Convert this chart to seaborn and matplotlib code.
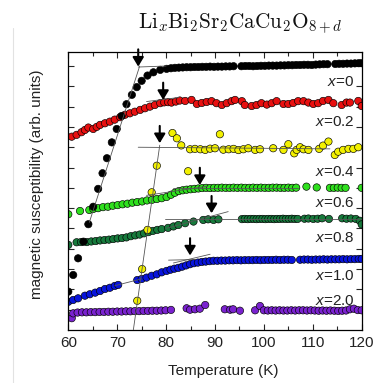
import matplotlib
matplotlib.use('Agg')
import matplotlib.pyplot as plt
import pandas as pd
import seaborn as sns
from matplotlib.lines import Line2D

# ---------------- data (temperature in K, susceptibility in arb. units, offset curves) -------------
T_x0 = [60.0, 61.0, 62.0, 63.1, 64.1, 65.1, 66.1, 67.0, 67.9, 68.9,
        69.9, 70.9, 71.9, 73.0, 74.0, 75.0, 76.2, 77.4, 78.8, 80.1,
        81.0, 81.8, 82.6, 83.4, 84.2, 85.0, 85.8, 86.6, 87.4, 88.2,
        89.0, 89.8, 90.6, 91.4, 92.2, 93.0, 93.8,
        95.4, 96.2, 97.0, 97.8, 98.6, 99.4, 100.2, 101.0, 101.8, 102.6,
        103.4, 104.2, 105.0, 105.8, 106.6, 107.4, 108.2, 109.0, 109.8, 110.6,
        111.4, 112.2, 113.0,
        114.6, 115.4, 116.2, 117.0, 117.8, 118.6, 119.4, 120.0]
chi_x0 = [1.89, 2.71, 3.53, 4.35, 5.21, 6.07, 6.95, 7.72, 8.46, 9.24,
          9.90, 10.54, 11.12, 11.58, 11.96, 12.27, 12.53, 12.69, 12.81, 12.86,
          12.89, 12.91, 12.92, 12.93, 12.94, 12.94, 12.95, 12.95, 12.96, 12.96,
          12.97, 12.96, 12.97, 12.97, 12.98, 12.98, 12.99,
          12.99, 13.00, 13.00, 12.99, 13.00, 13.01, 13.01, 13.02, 13.02, 13.02,
          13.03, 13.03, 13.04, 13.04, 13.05, 13.05, 13.06, 13.06, 13.05, 13.07,
          13.08, 13.09, 13.09,
          13.10, 13.11, 13.11, 13.12, 13.12, 13.13, 13.14, 13.14]

T_x02 = [60.7, 61.7, 62.7, 63.4, 64.1, 65.1, 65.8, 66.5, 67.5, 68.5,
         69.5, 70.6, 71.6, 72.6, 73.6, 74.7, 75.7, 76.7, 77.7, 78.8,
         79.6, 80.4, 81.1, 82.0, 82.8, 83.9, 85.2, 86.3, 87.3, 88.3,
         89.3, 90.3, 91.4, 92.4, 93.4, 94.1, 95.5, 96.1, 97.5, 98.5,
         99.5, 100.6, 101.6, 102.6, 104.0, 105.0, 106.0, 107.0, 108.1, 109.1,
         110.1, 111.1, 112.1, 113.2, 114.2, 115.9, 116.9, 117.6, 119.3, 120.0]
chi_x02 = [9.52, 9.61, 9.74, 9.85, 9.97, 9.90, 10.00, 10.10, 10.18, 10.26,
           10.36, 10.48, 10.60, 10.67, 10.75, 10.84, 10.92, 11.00, 11.08, 11.17,
           11.21, 11.22, 11.20, 11.25, 11.30, 11.28, 11.33, 11.13, 11.18, 11.23,
           11.27, 11.17, 11.08, 11.17, 11.27, 11.33, 11.27, 11.08, 11.03, 11.08,
           11.17, 11.10, 11.17, 11.27, 11.13, 11.13, 11.18, 11.27, 11.27, 11.20,
           11.13, 11.17, 11.28, 11.33, 11.17, 11.08, 11.20, 11.20, 11.28, 11.03]

T_x04 = [74.1, 75.1, 76.2, 77.05, 78.1, 81.3, 82.2, 83.1, 84.5, 84.9,
         85.9, 87.0, 88.0, 89.0, 90.0, 91.0, 91.7, 92.8, 93.8, 94.8,
         95.8, 96.8, 98.2, 99.2, 101.9, 104.0, 105.0, 106.2, 106.7, 107.4,
         108.1, 109.1, 111.3, 112.1, 113.2, 114.5, 115.2, 116.2, 117.3, 118.3,
         119.3]
chi_x04 = [1.44, 3.00, 4.93, 6.78, 8.09, 9.70, 9.44, 9.09, 7.82, 8.90,
           8.92, 8.90, 8.87, 8.93, 8.95, 9.64, 8.88, 8.90, 8.92, 8.86,
           8.90, 8.95, 8.87, 8.90, 8.95, 8.87, 9.15, 8.70, 8.87, 9.00,
           8.90, 8.87, 8.92, 9.08, 9.28, 8.62, 8.78, 8.87, 8.92, 8.92,
           9.00]

T_x06 = [60.0, 62.4, 64.3, 65.1, 66.1, 67.1, 68.1, 69.1, 70.1, 71.1,
         72.1, 73.1, 74.1, 75.1, 76.1, 77.1, 78.1, 79.1, 80.1, 81.0,
         81.8, 82.6, 83.4, 84.2, 85.0, 85.8, 86.6, 87.4, 88.2, 89.0,
         89.8, 90.6, 91.4, 92.2, 93.0, 93.8, 94.6, 95.4, 96.2, 97.0,
         97.8, 98.6, 99.4, 100.2, 101.0, 101.8, 102.6, 103.4, 104.2, 105.0,
         105.8, 106.6, 108.7, 110.8, 113.5, 114.3, 115.1, 115.9, 116.7, 120.0]
chi_x06 = [5.70, 5.86, 5.91, 5.96, 6.00, 6.05, 6.07, 6.12, 6.15, 6.19,
           6.22, 6.27, 6.30, 6.33, 6.38, 6.41, 6.45, 6.49, 6.55, 6.66,
           6.76, 6.84, 6.88, 6.91, 6.93, 6.95, 6.97, 6.99, 7.00, 6.99,
           7.00, 7.00, 7.01, 7.00, 7.00, 7.01, 7.00, 7.01, 7.00, 7.00,
           7.01, 7.00, 7.01, 7.00, 7.00, 7.01, 7.01, 7.00, 7.00, 7.01,
           7.00, 7.01, 7.06, 7.02, 7.00, 7.00, 7.01, 7.00, 7.00, 7.00]

T_x08 = [60.0, 61.7, 62.6, 63.8, 64.7, 65.6, 66.5, 67.4, 68.3, 69.2,
         70.1, 71.0, 71.9, 72.8, 73.7, 74.6, 75.5, 76.4, 77.3, 78.2,
         79.1, 80.4, 81.5, 82.5, 83.9, 85.6, 87.6, 88.6, 89.7, 90.7,
         95.5, 96.1, 96.7, 97.3, 97.9, 98.5, 99.1, 99.7, 100.3, 100.9,
         101.5, 102.1, 102.7, 103.3, 103.9, 104.5, 105.1, 105.7, 106.3, 106.9,
         108.3, 109.1, 110.1, 111.0, 111.9, 113.3, 116.0, 116.9, 117.8, 118.8,
         119.6, 120.0]
chi_x08 = [4.19, 4.32, 4.33, 4.33, 4.36, 4.38, 4.41, 4.43, 4.45, 4.48,
           4.51, 4.53, 4.56, 4.62, 4.66, 4.70, 4.76, 4.82, 4.88, 4.93,
           4.97, 5.03, 5.10, 5.17, 5.26, 5.34, 5.42, 5.45, 5.42, 5.45,
           5.46, 5.47, 5.46, 5.47, 5.47, 5.46, 5.47, 5.47, 5.46, 5.47,
           5.47, 5.46, 5.47, 5.47, 5.48, 5.47, 5.47, 5.48, 5.47, 5.47,
           5.48, 5.49, 5.47, 5.48, 5.50, 5.47, 5.50, 5.48, 5.49, 5.47,
           5.38, 5.20]

T_x10 = [60.0, 61.0, 62.0, 63.4, 64.4, 65.5, 66.5, 67.5, 68.5, 69.5,
         70.2, 74.1, 75.0, 76.0, 77.05, 78.1, 79.1, 80.1, 80.9, 81.7,
         82.5, 83.3, 84.1, 84.9, 85.7, 86.5, 87.3, 88.1, 88.9, 89.7,
         90.5, 91.3, 92.1, 92.9, 93.7, 94.5, 95.3, 96.1, 96.9, 97.7,
         98.5, 99.3, 100.1, 100.9, 101.7, 102.5, 103.3, 104.1, 104.9, 105.7,
         107.4, 108.2, 109.0, 109.8, 110.6, 111.4, 112.2, 113.0, 113.8, 114.6,
         115.4, 116.2, 117.0, 117.8, 118.6, 119.4, 120.0]
chi_x10 = [1.39, 1.48, 1.56, 1.69, 1.76, 1.84, 1.92, 2.02, 2.08, 2.17,
           2.22, 2.46, 2.51, 2.58, 2.67, 2.74, 2.84, 2.91, 2.97, 3.02,
           3.06, 3.12, 3.18, 3.24, 3.29, 3.32, 3.35, 3.37, 3.39, 3.41,
           3.41, 3.42, 3.42, 3.43, 3.43, 3.44, 3.43, 3.44, 3.44, 3.44,
           3.45, 3.44, 3.45, 3.45, 3.45, 3.46, 3.45, 3.46, 3.46, 3.45,
           3.46, 3.47, 3.47, 3.46, 3.47, 3.47, 3.48, 3.47, 3.48, 3.48,
           3.48, 3.49, 3.48, 3.49, 3.49, 3.50, 3.50]

T_x20 = [60.7, 61.0, 61.9, 62.8, 63.7, 64.6, 65.5, 66.4, 67.3, 68.2,
         69.1, 70.0, 70.9, 71.8, 72.7, 73.6, 74.5, 75.4, 76.3, 77.2,
         78.1, 79.0, 79.9, 81.0, 84.2, 84.9, 85.9, 86.9, 88.0, 92.0,
         93.1, 93.7, 95.1, 98.2, 99.2, 100.0, 100.8, 101.6, 102.4, 103.2,
         104.0, 104.8, 105.6, 106.4, 107.2, 108.0, 108.8, 109.6, 110.4, 111.2,
         112.0, 112.8, 113.6, 114.4, 115.2, 116.0, 116.8, 117.6, 118.4, 119.2,
         120.0]
chi_x20 = [0.58, 0.82, 0.86, 0.87, 0.87, 0.88, 0.88, 0.89, 0.89, 0.90,
           0.90, 0.91, 0.91, 0.92, 0.92, 0.93, 0.93, 0.94, 0.94, 0.95,
           0.95, 0.96, 0.97, 0.99, 1.07, 1.00, 1.02, 1.05, 1.23, 1.02,
           1.00, 1.02, 0.95, 0.97, 1.18, 0.97, 0.96, 0.97, 0.96, 0.97,
           0.96, 0.96, 0.97, 0.96, 0.97, 0.97, 0.96, 0.97, 0.96, 0.95,
           0.96, 0.95, 0.96, 0.95, 0.94, 0.95, 0.96, 1.02, 1.05, 0.98,
           0.97]

series_names = ['x=2.0', 'x=1.0', 'x=0.8', 'x=0.6', 'x=0.2', 'x=0.4', 'x=0']
series_T = [T_x20, T_x10, T_x08, T_x06, T_x02, T_x04, T_x0]
series_chi = [chi_x20, chi_x10, chi_x08, chi_x06, chi_x02, chi_x04, chi_x0]
series_colors = ['#7a22cf', '#0814dc', '#177a3c', '#2fe01e', '#e81010', '#f2f000', '#000000']

# curve labels (right aligned) and their heights
label_text = ['$x$=0', '$x$=0.2', '$x$=0.4', '$x$=0.6', '$x$=0.8', '$x$=1.0', '$x$=2.0']
label_chi = [12.23, 10.26, 7.80, 6.24, 4.52, 2.66, 1.43]

# guide (fit) lines: start/end temperature and level
fit_T1 = [64.3, 74.3, 76.0, 74.3, 73.3, 76.0, 81.4, 80.1, 79.8, 69.5, 81.5, 80.5]
fit_T2 = [74.6, 80.0, 82.6, 113.5, 78.7, 88.5, 107.0, 92.7, 120.0, 75.0, 89.0, 86.0]
fit_c1 = [5.30, 12.95, 11.25, 9.00, 0.00, 6.63, 7.00, 5.01, 5.47, 2.18, 3.30, 3.44]
fit_c2 = [13.00, 13.00, 11.45, 8.92, 9.10, 7.08, 7.00, 5.83, 5.47, 2.52, 3.73, 3.47]

# Tc arrows: temperature and level of arrow tip
arrow_T = [74.3, 79.4, 78.7, 86.9, 89.3, 84.9]
arrow_chi = [12.97, 11.33, 9.20, 7.14, 5.75, 3.67]

# ---------------- plotting -------------
sns.set_style('ticks')
plt.rcParams['font.family'] = ['Liberation Sans', 'DejaVu Sans']
plt.rcParams['mathtext.fontset'] = 'custom'
plt.rcParams['mathtext.rm'] = 'Liberation Sans'
plt.rcParams['mathtext.it'] = 'Liberation Sans:italic'

rows = []
for name, Ts, cs in zip(series_names, series_T, series_chi):
    for t, c in zip(Ts, cs):
        rows.append((name, t, c))
df = pd.DataFrame(rows, columns=['series', 'T', 'chi'])
palette = dict(zip(series_names, series_colors))

W, H = 376, 383
fig = plt.figure(figsize=(W / 100, H / 100), dpi=100)
ax = fig.add_axes([68.3 / W, 1 - 330 / H, (361.7 - 68.3) / W, (330 - 52) / H])

sns.scatterplot(data=df, x='T', y='chi', hue='series', palette=palette,
                hue_order=series_names, s=28, edgecolor='black', linewidth=0.45,
                legend=False, ax=ax, zorder=2)

for t1, t2, c1, c2 in zip(fit_T1, fit_T2, fit_c1, fit_c2):
    ax.plot([t1, t2], [c1, c2], color='#555555', lw=0.6, zorder=3)

arrow_len = 0.85
for t, c in zip(arrow_T, arrow_chi):
    ax.annotate('', xy=(t, c), xytext=(t, c + arrow_len),
                arrowprops=dict(arrowstyle='-|>,head_length=0.55,head_width=0.33',
                                color='black', lw=1.5, shrinkA=0, shrinkB=0),
                zorder=4, annotation_clip=False)

for txt, c in zip(label_text, label_chi):
    ax.text(118.5, c, txt, ha='right', va='center', fontsize=11, color='#222222')

ax.set_xlim(60, 120)
ax.set_ylim(0, 13.69)
ax.set_xticks([60, 70, 80, 90, 100, 110, 120])
ax.set_xticks([65, 75, 85, 95, 105, 115], minor=True)
ax.set_yticks(list(range(1, 14)))
ax.set_yticklabels([])
ax.tick_params(axis='x', which='major', direction='in', top=True, length=4, width=0.8,
               labelsize=11, pad=4, labelcolor='#222222')
ax.tick_params(axis='x', which='minor', direction='in', top=True, length=3, width=0.8)
ax.tick_params(axis='y', which='major', direction='in', left=True, right=True, length=4.5, width=0.8)
ax.set_xlabel('')
ax.set_ylabel('')
for sp in ax.spines.values():
    sp.set_linewidth(0.9)
    sp.set_color('black')

fig.text(223 / W, 1 - 371.5 / H, 'Temperature (K)', ha='center', va='center',
         fontsize=11, color='#222222')
fig.text(37 / W, 1 - 184 / H, 'magnetic susceptibility (arb. units)', rotation=90,
         ha='center', va='center', fontsize=11, color='#222222')
fig.text(138 / W, 1 - 28.5 / H,
         r'$\mathrm{Li}_{x}\mathrm{Bi}_{2}\mathrm{Sr}_{2}\mathrm{CaCu}_{2}\mathrm{O}_{8+d}$',
         math_fontfamily='cm', fontsize=15.3, ha='left', va='baseline', color='#111111')

fig.add_artist(Line2D([12.7 / W, 12.7 / W], [0, 1 - 28 / H], transform=fig.transFigure,
                      color='#e2e2e2', lw=0.8))

fig.savefig('out.png', dpi=100)
